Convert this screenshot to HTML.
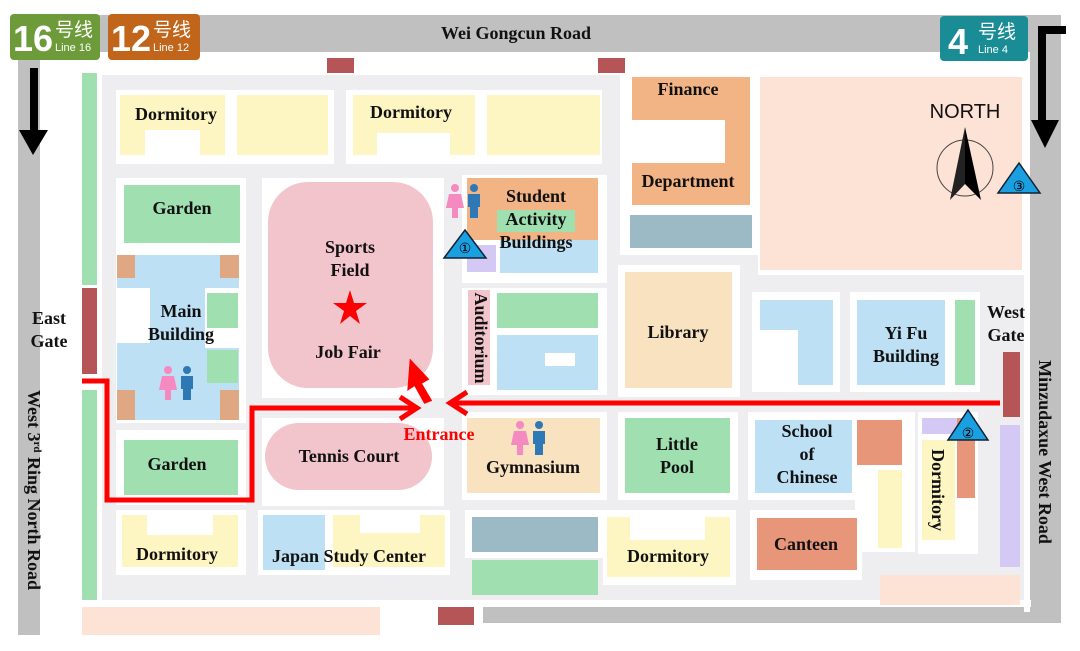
<!DOCTYPE html>
<html><head><meta charset="utf-8"><style>
html,body{margin:0;padding:0;background:#fff;width:1080px;height:651px;overflow:hidden}
svg{display:block}
.t{font-family:"Liberation Serif",serif;font-weight:bold;font-size:18px;fill:#111;text-anchor:middle}
.b{font-family:"Liberation Sans","Noto Sans CJK SC",sans-serif;fill:#fff}
</style></head><body>
<svg width="1080" height="651" viewBox="0 0 1080 651" xmlns="http://www.w3.org/2000/svg">
<rect x="15" y="15" width="1045" height="37" fill="#c0c0c0"/>
<rect x="18" y="52" width="33" height="583" fill="#c0c0c0"/>
<rect x="1030" y="15" width="31" height="608" fill="#c0c0c0"/>
<rect x="483" y="607" width="578" height="16" fill="#c0c0c0"/>
<rect x="102" y="75" width="922" height="527" fill="#eeeef1"/>
<g fill="#fff">
<rect x="116" y="90" width="218" height="74"/><rect x="346" y="90" width="256" height="74"/>
<rect x="620" y="75" width="138" height="180"/><rect x="758" y="75" width="266" height="200"/>
<rect x="116" y="178" width="130" height="245"/><rect x="262" y="178" width="182" height="220"/>
<rect x="462" y="175" width="145" height="108"/><rect x="462" y="288" width="145" height="107"/>
<rect x="618" y="265" width="122" height="132"/><rect x="752" y="292" width="88" height="100"/>
<rect x="850" y="292" width="130" height="100"/>
<rect x="116" y="430" width="130" height="75"/><rect x="262" y="418" width="182" height="88"/>
<rect x="462" y="412" width="145" height="88"/><rect x="618" y="412" width="120" height="88"/>
<rect x="748" y="412" width="110" height="88"/><rect x="855" y="412" width="60" height="140"/>
<rect x="918" y="412" width="60" height="142"/>
<rect x="116" y="510" width="130" height="65"/><rect x="258" y="510" width="192" height="65"/>
<rect x="465" y="510" width="140" height="48"/><rect x="603" y="510" width="133" height="75"/>
<rect x="750" y="510" width="112" height="70"/>
<rect x="40" y="52" width="62" height="583"/>
<rect x="1024" y="52" width="6" height="560"/>
<rect x="51" y="600" width="980" height="7"/>
</g>
<rect x="82" y="73" width="15" height="212" fill="#a0e0b0"/>
<rect x="82" y="390" width="15" height="210" fill="#a0e0b0"/>
<rect x="82" y="288" width="15" height="86" fill="#b55558"/>
<rect x="1003" y="352" width="17" height="65" fill="#b55558"/>
<rect x="327" y="58" width="27" height="15" fill="#b55558"/>
<rect x="598" y="58" width="27" height="15" fill="#b55558"/>
<rect x="438" y="607" width="36" height="18" fill="#b55558"/>
<rect x="82" y="607" width="298" height="28" fill="#fde3d6"/>
<rect x="880" y="575" width="140" height="30" fill="#fde3d6"/>
<rect x="1000" y="425" width="20" height="142" fill="#d4c8f5"/>
<path d="M120 95H225V155H200V130H145V155H120Z" fill="#fdf6c3"/>
<rect x="237" y="95" width="91" height="60" fill="#fdf6c3"/>
<path d="M353 95H475V155H450V133H377V155H353Z" fill="#fdf6c3"/>
<rect x="487" y="95" width="113" height="60" fill="#fdf6c3"/>
<path d="M632 77H750V205H632V163H725V120H632Z" fill="#f2b385"/>
<rect x="630" y="215" width="122" height="33" fill="#9bbac6"/>
<rect x="760" y="77" width="262" height="193" fill="#fde3d6"/>
<rect x="124" y="185" width="116" height="58" fill="#a0e0b0"/>
<rect x="117" y="255" width="122" height="165" fill="#bde0f5"/>
<rect x="117" y="288" width="33" height="55" fill="#fff"/>
<rect x="117" y="255" width="18" height="23" fill="#e0a882"/>
<rect x="220" y="255" width="19" height="23" fill="#e0a882"/>
<rect x="205" y="288" width="34" height="60" fill="#fff"/>
<rect x="207" y="293" width="31" height="35" fill="#a0e0b0"/>
<rect x="207" y="350" width="31" height="33" fill="#a0e0b0"/>
<rect x="117" y="390" width="18" height="30" fill="#e0a882"/>
<rect x="220" y="390" width="19" height="30" fill="#e0a882"/>
<rect x="268" y="182" width="165" height="206" rx="40" fill="#f2c4cc"/>
<rect x="467" y="178" width="131" height="62" fill="#f2b385"/>
<rect x="497" y="210" width="78" height="22" fill="#a0e0b0"/>
<rect x="500" y="240" width="98" height="33" fill="#bde0f5"/>
<rect x="467" y="245" width="29" height="27" fill="#d4c8f5"/>
<rect x="468" y="290" width="22" height="95" fill="#f2c4cc"/>
<rect x="497" y="293" width="101" height="35" fill="#a0e0b0"/>
<rect x="497" y="335" width="101" height="55" fill="#bde0f5"/>
<rect x="545" y="353" width="30" height="13" fill="#fff"/>
<rect x="625" y="272" width="107" height="116" fill="#f8e2c0"/>
<path d="M760 300H833V385H798V330H760Z" fill="#bde0f5"/>
<rect x="857" y="300" width="88" height="85" fill="#bde0f5"/>
<rect x="955" y="300" width="20" height="85" fill="#a0e0b0"/>
<rect x="124" y="440" width="114" height="55" fill="#a0e0b0"/>
<rect x="265" y="423" width="167" height="67" rx="34" fill="#f2c4cc"/>
<rect x="467" y="418" width="133" height="75" fill="#f8e2c0"/>
<rect x="625" y="418" width="105" height="75" fill="#a0e0b0"/>
<rect x="755" y="420" width="97" height="73" fill="#bde0f5"/>
<rect x="857" y="420" width="45" height="45" fill="#e8967a"/>
<rect x="878" y="470" width="24" height="78" fill="#fdf6c3"/>
<rect x="922" y="418" width="36" height="16" fill="#d4c8f5"/>
<rect x="922" y="440" width="33" height="100" fill="#fdf6c3"/>
<rect x="957" y="418" width="18" height="80" fill="#e8967a"/>
<path d="M122 515H147V535H213V515H238V567H122Z" fill="#fdf6c3"/>
<rect x="263" y="515" width="62" height="55" fill="#bde0f5"/>
<path d="M333 515H360V533H420V515H445V567H333Z" fill="#fdf6c3"/>
<rect x="472" y="517" width="126" height="35" fill="#9bbac6"/>
<rect x="472" y="560" width="126" height="35" fill="#a0e0b0"/>
<path d="M607 517H630V540H705V517H730V577H607Z" fill="#fdf6c3"/>
<rect x="757" y="518" width="100" height="52" fill="#e8967a"/>
<rect x="10" y="14" width="90" height="46" rx="4" fill="#6d9b3a"/>
<text x="13" y="51" class="b" font-size="36" font-weight="bold">16</text><text x="55" y="36" class="b" font-size="19">号线</text><text x="55" y="51" class="b" font-size="11">Line 16</text>
<rect x="108" y="14" width="92" height="46" rx="4" fill="#c0651a"/>
<text x="111" y="51" class="b" font-size="36" font-weight="bold">12</text><text x="153" y="36" class="b" font-size="19">号线</text><text x="153" y="51" class="b" font-size="11">Line 12</text>
<rect x="940" y="16" width="88" height="45" rx="4" fill="#1a8c96"/>
<text x="948" y="54" class="b" font-size="36" font-weight="bold">4</text><text x="978" y="38" class="b" font-size="19">号线</text><text x="978" y="53" class="b" font-size="11">Line 4</text>
<rect x="30" y="68" width="8" height="65" fill="#000"/><path d="M19 130H48L33 155Z" fill="#000"/>
<path d="M1066 30H1042V125" fill="none" stroke="#000" stroke-width="8"/><path d="M1031 120H1059L1045 148Z" fill="#000"/>
<text x="965" y="118" font-family="Liberation Sans,sans-serif" font-size="20" text-anchor="middle" fill="#111">NORTH</text>
<circle cx="965" cy="168" r="28" fill="none" stroke="#444" stroke-width="1"/>
<path d="M965 127L950 200L965 184Z" fill="#222"/><path d="M965 127L981 200L965 184Z" fill="#000"/>
<g fill="#1a9fe0" stroke="#123" stroke-width="1.5">
<path d="M465 230L486 258H444Z"/><path d="M1019 163L1040 193H998Z"/><path d="M968 410L988 440H948Z"/>
</g>
<g font-family="Liberation Sans,sans-serif" font-size="14" text-anchor="middle" fill="#000">
<text x="465" y="253">①</text><text x="1019" y="191">③</text><text x="968" y="438">②</text></g>
<g id="wc"><circle cx="455" cy="188" r="4" fill="#f48ac0"/><path d="M449 194H461L464 208H458V218H452V208H446Z" fill="#f48ac0"/>
<circle cx="474" cy="188" r="4" fill="#2e78b5"/><path d="M468 194H480V207H478V218H470V207H468Z" fill="#2e78b5"/></g>
<use href="#wc" x="-287" y="182"/><use href="#wc" x="65" y="237"/>
<g fill="none" stroke="#f00" stroke-width="5">
<path d="M82 381H107V500H252V408H415"/><path d="M1000 403H452"/>
<path d="M400 397L417 408L400 419"/><path d="M467 392L450 403L467 414"/>
</g>
<path d="M430 400L420 383L427 379L411 362L409 388L415 384L425 402Z" fill="#f00" stroke="#f00" stroke-width="3"/>
<path d="M350 290L354 303H367L356 311L360 324L350 316L340 324L344 311L333 303H346Z" fill="#f00"/>
<text x="516" y="39" class="t">Wei Gongcun Road</text>
<text x="176" y="120" class="t">Dormitory</text><text x="411" y="118" class="t">Dormitory</text>
<text x="688" y="95" class="t">Finance</text><text x="688" y="187" class="t">Department</text>
<text x="182" y="214" class="t">Garden</text>
<text x="350" y="253" class="t">Sports</text><text x="350" y="276" class="t">Field</text>
<text x="348" y="358" class="t">Job Fair</text>
<text x="181" y="317" class="t">Main</text><text x="181" y="340" class="t">Building</text>
<text x="536" y="202" class="t">Student</text><text x="536" y="225" class="t">Activity</text><text x="536" y="248" class="t">Buildings</text>
<text transform="translate(475,338) rotate(90)" class="t">Auditorium</text>
<text x="678" y="338" class="t">Library</text>
<text x="906" y="339" class="t">Yi Fu</text><text x="906" y="362" class="t">Building</text>
<text x="1006" y="318" class="t">West</text><text x="1006" y="341" class="t">Gate</text>
<text x="49" y="324" class="t">East</text><text x="49" y="347" class="t">Gate</text>
<text x="177" y="470" class="t">Garden</text>
<text x="349" y="462" class="t">Tennis Court</text>
<text x="439" y="440" class="t" style="fill:#f00">Entrance</text>
<text x="533" y="473" class="t">Gymnasium</text>
<text x="677" y="450" class="t">Little</text><text x="677" y="473" class="t">Pool</text>
<text x="807" y="437" class="t">School</text><text x="807" y="460" class="t">of</text><text x="807" y="483" class="t">Chinese</text>
<text transform="translate(932,490) rotate(90)" class="t">Dormitory</text>
<text x="177" y="560" class="t">Dormitory</text>
<text x="349" y="562" class="t">Japan Study Center</text>
<text x="668" y="562" class="t">Dormitory</text>
<text x="806" y="550" class="t">Canteen</text>
<text transform="translate(28,490) rotate(90)" class="t">West 3<tspan font-size="11" dy="-6">rd</tspan><tspan dy="6"> Ring North Road</tspan></text>
<text transform="translate(1039,452) rotate(90)" class="t">Minzudaxue West Road</text>
</svg>
</body></html>
